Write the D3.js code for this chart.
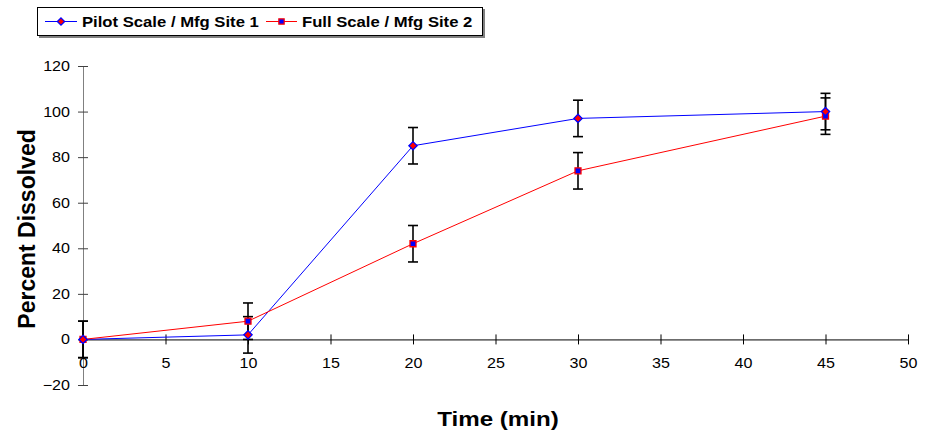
<!DOCTYPE html>
<html>
<head>
<meta charset="utf-8">
<script src="https://cdn.jsdelivr.net/npm/d3@7"></script>
<style>
  body { margin: 0; background: #fff; }
  svg { font-family: "Liberation Sans", Arial, sans-serif; }
</style>
</head>
<body>
<div id="chart"></div>
<script>
    // Data
    const times = [0, 10, 20, 30, 45];
    const pilotValues = [0, 2, 85, 97, 100];
    const pilotErrors = [8, 8, 8, 8, 8];
    const fullValues = [0, 8, 42, 74, 98];
    const fullErrors = [8, 8, 8, 8, 8];
    const xTicks = [0, 5, 10, 15, 20, 25, 30, 35, 40, 45, 50];
    const yTicks = [-20, 0, 20, 40, 60, 80, 100, 120];

    // the reference text looks stretched sideways a little
    const stretch = 1.15;

    const diamond = {
        draw(ctx, size) {
            const r = Math.sqrt(size / 2);
            ctx.moveTo(0, -r);
            ctx.lineTo(r, 0);
            ctx.lineTo(0, r);
            ctx.lineTo(-r, 0);
            ctx.closePath();
        }
    };

    const series = [
        { name: "Pilot Scale / Mfg Site 1", values: pilotValues, errors: pilotErrors,
          line: "#0000ff", fill: "#ff0000", stroke: "#0000ff", shape: diamond, size: 34 },
        { name: "Full Scale / Mfg Site 2", values: fullValues, errors: fullErrors,
          line: "#ff0000", fill: "#0000ff", stroke: "#ff0000", shape: d3.symbolSquare, size: 36 }
    ];

    const W = 925, H = 433;
    const margin = { top: 66, right: 17, bottom: 48, left: 83 };
    const width = W - margin.left - margin.right;
    const height = H - margin.top - margin.bottom;

    const svg = d3.select("#chart").append("svg")
        .attr("width", W)
        .attr("height", H);

    const g = svg.append("g")
        .attr("transform", "translate(" + margin.left + "," + margin.top + ")");

    const x = d3.scaleLinear().domain([0, 50]).range([0, width]);
    const y = d3.scaleLinear().domain([-20, 120]).range([height, 0]);

    // y axis (gray line, ticks crossing)
    const yAxis = g.append("g")
        .call(d3.axisLeft(y).tickValues(yTicks).tickSize(5).tickSizeOuter(0));
    yAxis.select(".domain").attr("stroke", "#808080");
    yAxis.selectAll(".tick line").attr("x2", 5).attr("x1", -5).attr("stroke", "#404040");
    yAxis.selectAll(".tick text")
        .style("font-size", "14px")
        .attr("fill", "#000")
        .attr("x", 0)
        .attr("transform", "translate(-13,0) scale(" + stretch + ",1)");

    // x axis at y = 0
    const xAxis = g.append("g")
        .attr("transform", "translate(0," + y(0) + ")")
        .call(d3.axisBottom(x).tickValues(xTicks).tickSize(5).tickSizeOuter(0).tickPadding(14));
    xAxis.select(".domain").attr("stroke", "#000");
    xAxis.selectAll(".tick line").attr("y1", -5).attr("y2", 5).attr("stroke", "#000");
    xAxis.selectAll(".tick text")
        .style("font-size", "14px")
        .attr("fill", "#000")
        .attr("transform", "scale(" + stretch + ",1)");

    // lines
    const line = d3.line()
        .x((d, i) => x(times[i]))
        .y(d => y(d));

    series.forEach(s => {
        g.append("path")
            .datum(s.values)
            .attr("fill", "none")
            .attr("stroke", s.line)
            .attr("stroke-width", 1)
            .attr("d", line);
    });

    // error bars
    series.forEach(s => {
        const eb = g.append("g").attr("stroke", "#000").attr("stroke-width", 1.6);
        s.values.forEach((v, i) => {
            const cx = x(times[i]);
            const top = y(v + s.errors[i]);
            const bot = y(v - s.errors[i]);
            eb.append("line").attr("x1", cx).attr("x2", cx).attr("y1", top).attr("y2", bot);
            eb.append("line").attr("x1", cx - 5).attr("x2", cx + 5).attr("y1", top).attr("y2", top);
            eb.append("line").attr("x1", cx - 5).attr("x2", cx + 5).attr("y1", bot).attr("y2", bot);
        });
    });

    // markers
    series.slice().reverse().forEach(s => {
        g.selectAll(null)
            .data(s.values)
            .join("path")
            .attr("transform", (d, i) => "translate(" + x(times[i]) + "," + y(d) + ")")
            .attr("d", d3.symbol().type(s.shape).size(s.size))
            .attr("fill", s.fill)
            .attr("stroke", s.stroke)
            .attr("stroke-width", 1.3);
    });

    // axis titles
    svg.append("text")
        .attr("transform", "translate(498,426) scale(" + stretch + ",1)")
        .attr("text-anchor", "middle")
        .style("font-size", "21px")
        .style("font-weight", "bold")
        .text("Time (min)");

    svg.append("text")
        .attr("transform", "translate(35,229) rotate(-90)")
        .attr("text-anchor", "middle")
        .style("font-size", "23px")
        .style("font-weight", "bold")
        .text("Percent Dissolved");

    // legend
    const legend = svg.append("g").attr("transform", "translate(37,7)");
    legend.append("rect")
        .attr("x", 2).attr("y", 2).attr("width", 446).attr("height", 29)
        .attr("fill", "#808080");
    legend.append("rect")
        .attr("x", 0.5).attr("y", 0.5).attr("width", 445).attr("height", 28)
        .attr("fill", "#fff").attr("stroke", "#000");

    const legendItems = [
        { lineX: 8, lineW: 32, textX: 45 },
        { lineX: 229, lineW: 31, textX: 265 }
    ];
    series.forEach((s, i) => {
        const it = legendItems[i];
        const lg = legend.append("g").attr("transform", "translate(0,14.5)");
        lg.append("line").attr("x1", it.lineX).attr("x2", it.lineX + it.lineW).attr("y1", 0).attr("y2", 0)
            .attr("stroke", s.line).attr("stroke-width", 1);
        lg.append("path")
            .attr("transform", "translate(" + (it.lineX + it.lineW / 2) + ",0)")
            .attr("d", d3.symbol().type(s.shape).size(s.size * 0.8))
            .attr("fill", s.fill).attr("stroke", s.stroke).attr("stroke-width", 1.2);
        lg.append("text")
            .attr("transform", "translate(" + it.textX + ",5) scale(" + stretch + ",1)")
            .style("font-size", "14.5px")
            .style("font-weight", "bold")
            .text(s.name);
    });
</script>
</body>
</html>
